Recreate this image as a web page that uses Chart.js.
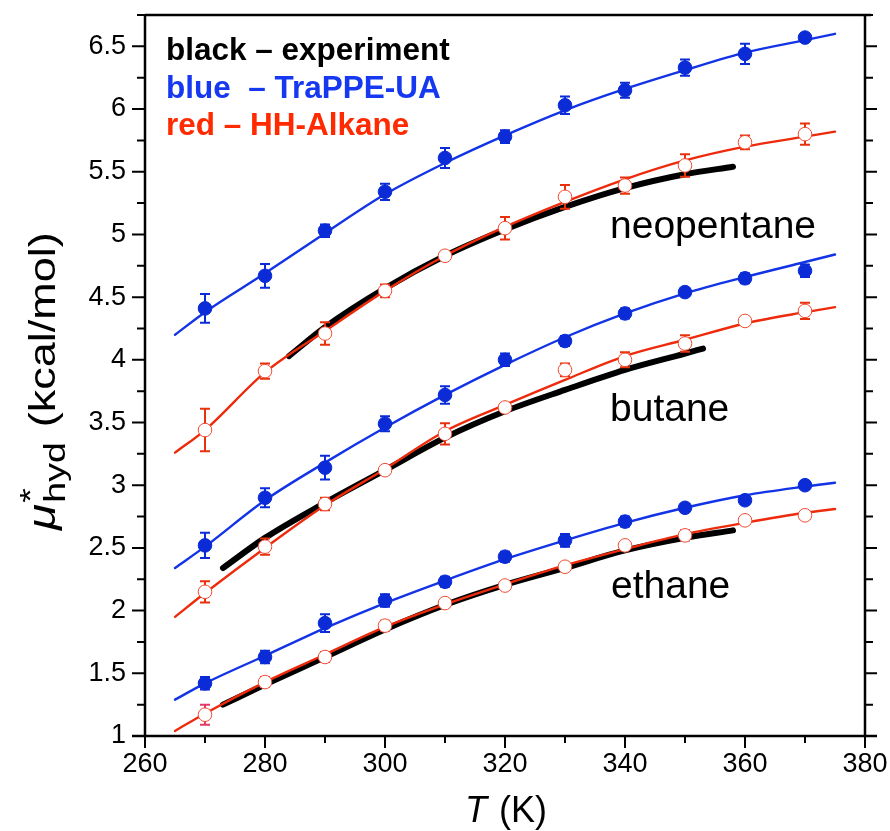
<!DOCTYPE html>
<html lang="en">
<head>
<meta charset="UTF-8">
<title>Hydration free energy vs temperature</title>
<script src="https://cdn.jsdelivr.net/npm/chart.js"></script>
<style>
    body { margin: 0; background: #fff; }
    .grafico { width: 890px; height: 831px; position: relative; }
</style>
</head>
<body>
<div class="grafico"><canvas id="grafico"></canvas></div>
<script>
    // simulation temperatures (K)
    const temps = [270, 280, 290, 300, 310, 320, 330, 340, 350, 360, 370];

    const neoTrappe    = [4.41, 4.67, 5.03, 5.34, 5.61, 5.78, 6.03, 6.15, 6.33, 6.44, 6.57];
    const neoTrappeErr = [0.115, 0.095, 0.05, 0.065, 0.08, 0.05, 0.07, 0.06, 0.065, 0.08, 0.03];
    const neoHH        = [3.44, 3.91, 4.21, 4.55, 4.83, 5.05, 5.30, 5.39, 5.55, 5.735, 5.80];
    const neoHHErr     = [0.17, 0.06, 0.09, 0.05, 0.02, 0.09, 0.095, 0.065, 0.09, 0.055, 0.085];
    const butTrappe    = [2.52, 2.90, 3.14, 3.49, 3.72, 4.00, 4.15, 4.37, 4.54, 4.65, 4.71];
    const butTrappeErr = [0.10, 0.075, 0.095, 0.06, 0.07, 0.05, 0.04, 0.04, 0.02, 0.04, 0.05];
    const butHH        = [2.15, 2.51, 2.85, 3.12, 3.41, 3.62, 3.92, 4.00, 4.13, 4.31, 4.39];
    const butHHErr     = [0.085, 0.065, 0.05, 0.02, 0.085, 0.02, 0.05, 0.06, 0.065, 0.03, 0.065];
    const ethTrappe    = [1.42, 1.63, 1.90, 2.08, 2.23, 2.43, 2.56, 2.71, 2.82, 2.88, 3.00];
    const ethTrappeErr = [0.05, 0.05, 0.07, 0.05, 0.04, 0.04, 0.05, 0.04, 0.03, 0.03, 0.03];
    const ethHH        = [1.17, 1.43, 1.63, 1.88, 2.06, 2.20, 2.35, 2.52, 2.60, 2.72, 2.76];
    const ethHHErr     = [0.08, 0.04, 0.04, 0.04, 0.02, 0.02, 0.02, 0.02, 0.04, 0.02, 0.02];

    // fitted curves
    const fitT         = [265, 270, 280, 290, 300, 310, 320, 330, 340, 350, 360, 370, 375];
    const neoTrappeFit = [4.20, 4.38, 4.69, 5.01, 5.32, 5.57, 5.79, 5.99, 6.16, 6.31, 6.45, 6.55, 6.60];
    const neoHHFit     = [3.26, 3.44, 3.90, 4.23, 4.55, 4.83, 5.06, 5.26, 5.44, 5.59, 5.70, 5.78, 5.82];
    const butTrappeFit = [2.34, 2.51, 2.88, 3.18, 3.46, 3.72, 3.96, 4.18, 4.37, 4.53, 4.66, 4.78, 4.84];
    const butHHFit     = [1.95, 2.14, 2.50, 2.84, 3.13, 3.43, 3.64, 3.84, 4.03, 4.16, 4.29, 4.38, 4.42];
    const ethTrappeFit = [1.29, 1.42, 1.64, 1.86, 2.06, 2.24, 2.41, 2.56, 2.70, 2.82, 2.92, 2.99, 3.02];
    const ethHHFit     = [1.04, 1.18, 1.43, 1.65, 1.87, 2.05, 2.21, 2.36, 2.49, 2.61, 2.70, 2.78, 2.81];

    // experiment
    const neoExpT = [284, 290, 300, 310, 320, 330, 340, 350, 358];
    const neoExp  = [4.03, 4.26, 4.57, 4.83, 5.04, 5.22, 5.37, 5.48, 5.54];
    const butExpT = [273, 280, 290, 300, 310, 320, 330, 340, 350, 353];
    const butExp  = [2.34, 2.58, 2.86, 3.12, 3.38, 3.59, 3.76, 3.92, 4.05, 4.09];
    const ethExpT = [273, 280, 290, 300, 310, 320, 330, 340, 350, 358];
    const ethExp  = [1.25, 1.41, 1.63, 1.85, 2.045, 2.205, 2.34, 2.48, 2.58, 2.64];

    const xTicks = [260, 280, 300, 320, 340, 360, 380];
    const xMinor = [270, 290, 310, 330, 350, 370];
    const yTicks = [1, 1.5, 2, 2.5, 3, 3.5, 4, 4.5, 5, 5.5, 6, 6.5];
    const yMinor = [1.25, 1.75, 2.25, 2.75, 3.25, 3.75, 4.25, 4.75, 5.25, 5.75, 6.25, 6.75];

    const legendLines = [
        ['black \u2013 experiment', '#000000'],
        ['blue  \u2013 TraPPE-UA', '#1538f0'],
        ['red \u2013 HH-Alkane', '#ff2a00']
    ];
    const molLabels = ['neopentane', 'butane', 'ethane'];

    const FONT = '"Liberation Sans", Arial, Helvetica, sans-serif';
    const AZUL = '#0a2bd6';
    const AZUL_LINHA = '#1233e6';
    const VERMELHO = '#ee2a0c';

    function pts(xs, ys) {
        return xs.map((x, i) => ({ x: x, y: ys[i] }));
    }

    function curva(xs, ys, cor, largura, ordem) {
        return {
            data: pts(xs, ys),
            showLine: true,
            borderColor: cor,
            borderWidth: largura,
            borderCapStyle: 'round',
            pointRadius: 0,
            cubicInterpolationMode: 'monotone',
            order: ordem
        };
    }

    function marcadores(ys, erros, cheio, corErro) {
        return {
            data: pts(temps, ys),
            showLine: false,
            pointRadius: 6.8,
            pointBackgroundColor: cheio ? AZUL : '#ffffff',
            pointBorderColor: cheio ? AZUL : '#f04a30',
            pointBorderWidth: 1,
            erros: erros,
            corErro: corErro,
            order: 0
        };
    }

    const datasets = [
        curva(neoExpT, neoExp, '#000', 6, 3),
        curva(butExpT, butExp, '#000', 6, 3),
        curva(ethExpT, ethExp, '#000', 6, 3),
        curva(fitT, neoTrappeFit, AZUL_LINHA, 2.4, 2),
        curva(fitT, butTrappeFit, AZUL_LINHA, 2.4, 2),
        curva(fitT, ethTrappeFit, AZUL_LINHA, 2.4, 2),
        curva(fitT, neoHHFit, VERMELHO, 2.4, 1),
        curva(fitT, butHHFit, VERMELHO, 2.4, 1),
        curva(fitT, ethHHFit, VERMELHO, 2.4, 1),
        marcadores(neoTrappe, neoTrappeErr, true, AZUL),
        marcadores(butTrappe, butTrappeErr, true, AZUL),
        marcadores(ethTrappe, ethTrappeErr, true, AZUL),
        marcadores(neoHH, neoHHErr, false, '#e8300c'),
        marcadores(butHH, butHHErr, false, '#e8300c'),
        marcadores(ethHH, ethHHErr, false, '#e23a68')
    ];

    // error bars go under the markers
    const barrasErro = {
        id: 'barrasErro',
        beforeDatasetDraw(chart, args) {
            const ds = chart.data.datasets[args.index];
            if (!ds.erros) return;
            const ctx = chart.ctx;
            const xs = chart.scales.x, ys = chart.scales.y;
            ctx.save();
            ctx.strokeStyle = ds.corErro;
            ctx.lineWidth = 2;
            ds.data.forEach((p, i) => {
                const px = xs.getPixelForValue(p.x);
                const top = ys.getPixelForValue(p.y + ds.erros[i]);
                const bot = ys.getPixelForValue(p.y - ds.erros[i]);
                ctx.beginPath();
                ctx.moveTo(px, top); ctx.lineTo(px, bot);
                ctx.moveTo(px - 5, top); ctx.lineTo(px + 5, top);
                ctx.moveTo(px - 5, bot); ctx.lineTo(px + 5, bot);
                ctx.stroke();
            });
            ctx.restore();
        }
    };

    // frame, ticks and all the text
    const moldura = {
        id: 'moldura',
        afterDraw(chart) {
            const ctx = chart.ctx;
            const a = chart.chartArea;
            const xs = chart.scales.x, ys = chart.scales.y;
            ctx.save();
            ctx.strokeStyle = '#000';
            ctx.lineWidth = 2.5;
            ctx.beginPath();
            ctx.moveTo(a.left, a.top); ctx.lineTo(a.right + 6, a.top);
            ctx.moveTo(a.left, a.top); ctx.lineTo(a.left, a.bottom);
            ctx.moveTo(a.left - 13, a.bottom); ctx.lineTo(a.right + 12, a.bottom);
            ctx.moveTo(a.right, a.top); ctx.lineTo(a.right, a.bottom);
            ctx.stroke();

            ctx.lineWidth = 2;
            ctx.beginPath();
            xTicks.forEach(v => {
                const p = xs.getPixelForValue(v);
                ctx.moveTo(p, a.bottom); ctx.lineTo(p, a.bottom + 12);
            });
            xMinor.forEach(v => {
                const p = xs.getPixelForValue(v);
                ctx.moveTo(p, a.bottom); ctx.lineTo(p, a.bottom + 7);
            });
            yTicks.forEach(v => {
                const p = ys.getPixelForValue(v);
                ctx.moveTo(a.left - 13, p); ctx.lineTo(a.left, p);
                ctx.moveTo(a.right, p); ctx.lineTo(a.right + 12, p);
            });
            yMinor.forEach(v => {
                const p = ys.getPixelForValue(v);
                ctx.moveTo(a.left - 8, p); ctx.lineTo(a.left, p);
                ctx.moveTo(a.right, p); ctx.lineTo(a.right + 8, p);
            });
            ctx.stroke();

            // legend text
            ctx.textBaseline = 'alphabetic';
            ctx.textAlign = 'left';
            ctx.font = 'bold 31.5px ' + FONT;
            legendLines.forEach((l, i) => {
                ctx.fillStyle = l[1];
                ctx.fillText(l[0], 166, 60 + i * 37.5);
            });

            // molecule labels
            ctx.fillStyle = '#000';
            ctx.font = '39px ' + FONT;
            ctx.fillText(molLabels[0], 610, 238);
            ctx.fillText(molLabels[1], 610, 421);
            ctx.fillText(molLabels[2], 611, 598);

            // x title
            ctx.font = 'italic 36px ' + FONT;
            ctx.fillText('T', 465, 822);
            const wT = ctx.measureText('T ').width;
            ctx.font = '36px ' + FONT;
            ctx.fillText('(K)', 465 + wT + 2, 822);

            // y title, rotated (glyphs are a bit stretched along the text in the original)
            ctx.translate(55, 530);
            ctx.rotate(-Math.PI / 2);
            ctx.scale(1.25, 1);
            ctx.font = 'italic 38px ' + FONT;
            ctx.fillText('\u03bc', 0, 0);
            let pos = ctx.measureText('\u03bc').width + 1;
            ctx.font = '30px ' + FONT;
            ctx.fillText('*', pos, -15);
            ctx.fillText('hyd', pos, 10);
            pos += ctx.measureText('hyd').width + 12;
            ctx.font = '36px ' + FONT;
            ctx.fillText('(kcal/mol)', pos, 0);
            ctx.restore();
        }
    };

    const config = {
        type: 'scatter',
        data: { datasets: datasets },
        options: {
            responsive: true,
            maintainAspectRatio: false,
            animation: false,
            layout: { padding: 0 },
            plugins: {
                legend: { display: false },
                tooltip: { enabled: false }
            },
            scales: {
                x: {
                    type: 'linear', position: 'bottom', min: 260, max: 380,
                    afterBuildTicks: s => { s.ticks = xTicks.map(v => ({ value: v })); },
                    afterFit: s => { s.height = 95; s.paddingLeft = 0; s.paddingRight = 0; },
                    grid: { display: false },
                    border: { display: false },
                    ticks: { color: '#000', padding: 4, maxRotation: 0, font: { family: FONT, size: 27 } }
                },
                x2: {
                    type: 'linear', position: 'top', min: 260, max: 380,
                    afterFit: s => { s.height = 15; s.paddingLeft = 0; s.paddingRight = 0; },
                    grid: { display: false }, border: { display: false },
                    ticks: { display: false }
                },
                y: {
                    type: 'linear', position: 'left', min: 1, max: 6.75,
                    afterBuildTicks: s => { s.ticks = yTicks.map(v => ({ value: v })); },
                    afterFit: s => { s.width = 145; s.paddingTop = 0; s.paddingBottom = 0; },
                    grid: { display: false },
                    border: { display: false },
                    ticks: { color: '#000', padding: 11, font: { family: FONT, size: 27 },
                             callback: v => String(v) }
                },
                y2: {
                    type: 'linear', position: 'right', min: 1, max: 6.75,
                    afterFit: s => { s.width = 25; s.paddingTop = 0; s.paddingBottom = 0; },
                    grid: { display: false }, border: { display: false },
                    ticks: { display: false }
                }
            }
        },
        plugins: [barrasErro, moldura]
    };

    let myChart = new Chart(document.getElementById('grafico'), config);
</script>
</body>
</html>
